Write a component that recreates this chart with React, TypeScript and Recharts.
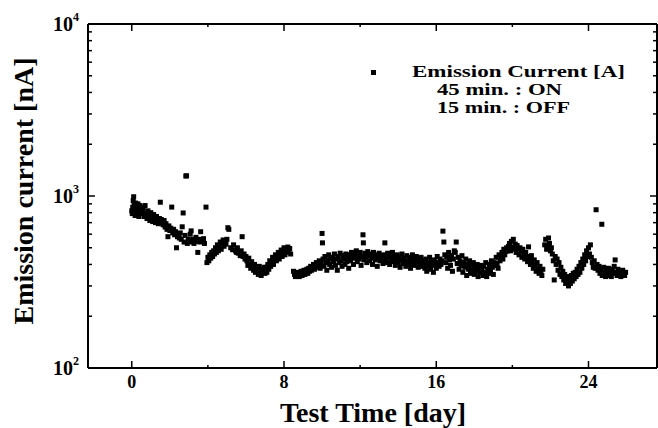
import React from 'react';
import { ScatterChart, Scatter, XAxis, YAxis } from 'recharts';

// ---- data: test time [day] and emission current [nA] ----
const days: number[] = [
  0.00, 0.025, 0.05, 0.075, 0.10, 0.125, 0.15, 0.175, 0.20, 0.225, 0.25, 0.275, 0.30, 0.325, 0.35, 0.375, 0.40, 0.425, 0.45, 0.475, 0.50,
  0.55, 0.60, 0.65, 0.70, 0.75, 0.80, 0.85, 0.90, 0.95, 1.00, 1.05, 1.10, 1.15, 1.20, 1.25, 1.30, 1.35, 1.40, 1.45, 1.50,
  1.55, 1.60, 1.65, 1.70, 1.75, 1.80, 1.85, 1.90, 1.95, 2.00, 2.05, 2.10, 2.15, 2.20, 2.25, 2.30, 2.35, 2.40, 2.45, 2.50,
  2.55, 2.60, 2.65, 2.70, 2.75, 2.80, 2.84, 2.88, 2.92, 2.97, 3.02, 3.07, 3.12, 3.17, 3.22, 3.27, 3.32, 3.37, 3.42, 3.47, 3.52, 3.57, 3.62, 3.67, 3.72, 3.77, 3.82,
  3.90, 3.95, 4.00, 4.05, 4.10, 4.15, 4.20, 4.25, 4.30, 4.35, 4.40, 4.45, 4.50, 4.55, 4.60, 4.65, 4.70, 4.75, 4.80, 4.85, 4.90, 4.95, 5.00, 5.05, 5.10,
  5.20, 5.30, 5.35, 5.45, 5.50, 5.55, 5.60, 5.70, 5.75, 5.80, 5.85, 5.90, 5.95, 6.00,
  6.05, 6.10, 6.15, 6.20, 6.25, 6.30, 6.35, 6.40, 6.45, 6.50, 6.55, 6.60, 6.65, 6.70, 6.75, 6.80, 6.85, 6.90, 6.95, 7.00,
  7.05, 7.10, 7.15, 7.20, 7.25, 7.30, 7.35, 7.40, 7.45, 7.50, 7.55, 7.60, 7.65, 7.70, 7.75, 7.80, 7.85, 7.90, 7.95, 8.00, 8.05, 8.10, 8.15, 8.20, 8.25, 8.30, 8.35,
  8.50, 8.55, 8.60, 8.65, 8.70, 8.75, 8.80, 8.85, 8.90, 8.95, 9.00, 9.05, 9.10, 9.15, 9.20, 9.25, 9.30, 9.35, 9.40, 9.45, 9.50, 9.55, 9.60, 9.65, 9.70, 9.75, 9.80,
  9.85, 9.90, 9.95, 10.00, 10.02, 10.05, 10.10, 10.15, 10.20, 10.25, 10.30, 10.35, 10.40, 10.45, 10.50, 10.55, 10.60, 10.65, 10.70, 10.75, 10.80, 10.85, 10.90, 10.95, 11.00, 11.05, 11.10, 11.15, 11.20, 11.25, 11.30, 11.35, 11.40,
  11.45, 11.50, 11.55, 11.60, 11.65, 11.70, 11.75, 11.80, 11.85, 11.90, 11.95, 12.00, 12.05, 12.10, 12.15, 12.17, 12.20, 12.25, 12.30, 12.35, 12.40, 12.45, 12.50, 12.55, 12.60, 12.65, 12.70, 12.75, 12.80, 12.85, 12.90, 12.95, 13.00, 13.05, 13.10, 13.15, 13.20,
  13.25, 13.30, 13.35, 13.40, 13.45, 13.50, 13.55, 13.60, 13.65, 13.70, 13.75, 13.80, 13.85, 13.90, 13.95, 14.00, 14.05, 14.10, 14.15, 14.20, 14.25,
  14.30, 14.35, 14.40, 14.45, 14.50, 14.55, 14.60, 14.65, 14.70, 14.75, 14.80, 14.85, 14.90, 14.95, 15.00, 15.05, 15.10, 15.15, 15.20, 15.25, 15.30,
  15.35, 15.40, 15.45, 15.50, 15.55, 15.60, 15.65, 15.70, 15.75, 15.80, 15.85, 15.90, 15.95, 16.00, 16.05, 16.10, 16.15, 16.20, 16.25, 16.30,
  16.35, 16.40, 16.45, 16.50, 16.55, 16.60, 16.65, 16.70, 16.75, 16.80, 16.85, 16.90, 16.95, 17.00, 17.05, 17.10, 17.15, 17.20, 17.25, 17.30, 17.35,
  17.40, 17.45, 17.50, 17.55, 17.60, 17.65, 17.70, 17.75, 17.80, 17.85, 17.90, 17.95, 18.00, 18.05, 18.10, 18.15, 18.20, 18.25, 18.30, 18.35, 18.40,
  18.45, 18.50, 18.55, 18.60, 18.65, 18.70, 18.75, 18.80, 18.85, 18.90, 18.95, 19.00, 19.05, 19.10, 19.15, 19.20, 19.25, 19.30, 19.35, 19.40, 19.45, 19.50, 19.55, 19.60, 19.65, 19.70, 19.75, 19.80,
  19.85, 19.90, 19.95, 20.00, 20.05, 20.10, 20.15, 20.20, 20.25, 20.30, 20.35, 20.40, 20.45, 20.50, 20.55, 20.60, 20.65, 20.70,
  20.75, 20.80, 20.85, 20.90, 20.95, 21.00, 21.05, 21.10, 21.15, 21.20, 21.25, 21.30, 21.35, 21.40, 21.45, 21.50, 21.55, 21.60,
  21.70, 21.75, 21.80, 21.85, 21.90, 21.95, 22.00, 22.05,
  22.10, 22.15, 22.20, 22.25, 22.30, 22.35, 22.40, 22.45, 22.50, 22.55, 22.60, 22.65, 22.70, 22.75, 22.80, 22.85, 22.90, 22.95, 23.00, 23.05, 23.10, 23.15, 23.20, 23.25, 23.30,
  23.35, 23.40, 23.45, 23.50, 23.55, 23.60, 23.65, 23.70, 23.75, 23.80, 23.85, 23.90, 23.95, 24.00, 24.05, 24.10, 24.15, 24.20, 24.25, 24.30,
  24.35, 24.40, 24.45, 24.50, 24.55, 24.60, 24.65, 24.70, 24.72, 24.80, 24.85, 24.90, 24.95, 25.00, 25.05, 25.10,
  25.15, 25.20, 25.25, 25.30, 25.35, 25.40, 25.45, 25.50, 25.55, 25.60, 25.65, 25.70, 25.75, 25.80, 25.85, 25.90, 25.95,
];
const currents: number[] = [
  820, 790, 860, 940, 990, 880, 800, 770, 910, 850, 830, 780, 870, 900, 810, 760, 840, 880, 790, 820, 860,
  800, 840, 760, 880, 790, 740, 820, 770, 720, 800, 750, 710, 780, 730, 700, 760, 720, 690, 740, 920,
  730, 700, 680, 720, 660, 690, 640, 580, 670, 630, 650, 862, 610, 640, 595, 620, 500, 580, 600, 570,
  610, 560, 662, 797, 540, 590, 1307, 1310, 530, 560, 545, 600, 627, 540, 560, 530, 550, 575, 545, 470, 560, 540, 620, 555, 545, 565, 530,
  862, 410, 440, 420, 455, 435, 470, 445, 480, 460, 500, 470, 520, 480, 505, 540, 490, 530, 555, 510, 545, 525, 560, 654, 640,
  500, 487, 520, 480, 470, 500, 465, 450, 480, 580, 445, 460, 430, 445,
  420, 395, 435, 400, 380, 415, 390, 370, 400, 360, 385, 375, 350, 390, 365, 345, 375, 360, 385, 355,
  385, 360, 400, 375, 420, 390, 410, 440, 400, 430, 455, 420, 445, 470, 430, 460, 485, 445, 475, 500, 455, 490, 470, 505, 480, 495, 460,
  365, 350, 340, 355, 345, 360, 340, 350, 365, 345, 355, 370, 350, 360, 375, 355, 380, 365, 390, 370, 385, 400, 375, 395, 410, 385, 400,
  420, 380, 405, 606, 534, 430, 390, 445, 410, 370, 425, 455, 400, 430, 385, 440, 415, 460, 395, 430, 370, 445, 410, 465, 420, 390, 450, 430, 400, 460, 415, 440, 380,
  455, 420, 470, 435, 400, 460, 440, 480, 415, 450, 430, 470, 395, 445, 595, 534, 425, 465, 440, 410, 475, 450, 420, 460, 435, 400, 470, 445, 425, 455, 390, 440, 465, 420, 450, 430, 405,
  455, 534, 430, 410, 465, 440, 400, 450, 425, 470, 415, 445, 395, 430, 455, 410, 440, 385, 425, 460, 405,
  435, 415, 390, 450, 420, 400, 440, 380, 425, 455, 405, 430, 395, 445, 415, 385, 435, 410, 440, 390, 420,
  400, 380, 430, 365, 410, 390, 440, 375, 415, 395, 360, 425, 405, 380, 445, 410, 390, 430, 400, 420,
  625, 540, 455, 410, 440, 380, 470, 425, 395, 450, 365, 430, 480, 470, 540, 405, 440, 375, 420, 395, 450,
  360, 410, 385, 430, 345, 400, 375, 420, 355, 395, 370, 410, 350, 385, 365, 400, 340, 380, 360, 395, 370,
  345, 390, 360, 410, 340, 375, 355, 400, 370, 420, 385, 350, 410, 395, 440, 405, 380, 455, 420, 440, 470, 430, 490, 455, 475, 500, 480, 510,
  530, 480, 545, 505, 560, 490, 525, 470, 515, 495, 455, 500, 480, 440, 490, 460, 430, 470,
  445, 415, 506, 435, 400, 450, 415, 380, 425, 395, 365, 410, 375, 355, 390, 365, 345, 375,
  520, 560, 490, 506, 570, 530, 480, 500,
  460, 420, 325, 445, 400, 430, 370, 410, 350, 385, 340, 365, 325, 350, 310, 340, 320, 300, 330, 310, 345, 320, 355, 330, 360,
  340, 375, 350, 390, 360, 410, 380, 430, 400, 455, 420, 480, 445, 500, 460, 520, 440, 410, 385, 420,
  380, 832, 400, 370, 390, 355, 375, 685, 345, 385, 360, 340, 370, 350, 380, 345,
  365, 340, 375, 355, 390, 425, 360, 345, 375, 350, 365, 340, 360, 370, 350, 345, 360,
];

const xTicks = [0, 4, 8, 12, 16, 20, 24];
const xMajorLabels: Record<number, string> = { 0: '0', 8: '8', 16: '16', 24: '24' };
const yTicks = [100, 200, 300, 400, 500, 600, 700, 800, 900, 1000, 2000, 3000, 4000, 5000, 6000, 7000, 8000, 9000, 10000];
const yMajorExp: Record<number, string> = { 100: '2', 1000: '3', 10000: '4' };
const xTitle = 'Test Time [day]';
const yTitle = 'Emission current [nA]';
const legendLines = ['Emission Current [A]', '45 min. : ON', '15 min. : OFF'];

const n = Math.min(days.length, currents.length);
const points = days.slice(0, n).map((d, i) => ({ day: d, current: currents[i] }));

const FONT = "'Liberation Serif', 'Times New Roman', serif";
const W = 658;
const H = 428;
const X_DOMAIN: [number, number] = [-2.3, 27.6];
const Y_DOMAIN: [number, number] = [100, 10000];

const LeftTick = (p: any) => {
  const { x, y, payload } = p;
  const exp = yMajorExp[payload.value];
  const major = exp !== undefined;
  return (
    <g>
      <line x1={x} x2={x + (major ? 7 : 4)} y1={y} y2={y} stroke="#000" strokeWidth={1.5} />
      {major && (
        <text x={x - 9} y={y + 7} textAnchor="end" fontFamily={FONT} fontWeight="bold" fontSize={20} fill="#000">
          10
          <tspan fontSize={12} dy={-10}>{exp}</tspan>
        </text>
      )}
    </g>
  );
};

const RightTick = (p: any) => {
  const { x, y, payload } = p;
  const major = yMajorExp[payload.value] !== undefined;
  return <line x1={x} x2={x - (major ? 7 : 4)} y1={y} y2={y} stroke="#000" strokeWidth={1.5} />;
};

const BottomTick = (p: any) => {
  const { x, y, payload } = p;
  const label = xMajorLabels[payload.value];
  const major = label !== undefined;
  return (
    <g>
      <line x1={x} x2={x} y1={y} y2={y - (major ? 7 : 3)} stroke="#000" strokeWidth={1.5} />
      {major && (
        <text x={x} y={y + 20} textAnchor="middle" fontFamily={FONT} fontWeight="bold" fontSize={18} fill="#000">
          {label}
        </text>
      )}
    </g>
  );
};

const TopTick = (p: any) => {
  const { x, y, payload } = p;
  const major = xMajorLabels[payload.value] !== undefined;
  return <line x1={x} x2={x} y1={y} y2={y + (major ? 7 : 3)} stroke="#000" strokeWidth={1.5} />;
};

const Square = (p: any) => {
  const { cx, cy } = p;
  if (cx == null || cy == null) return null;
  return <rect x={cx - 2.5} y={cy - 2.5} width={5} height={5} fill="#000" />;
};

export default function App() {
  const axisLine = { stroke: '#000', strokeWidth: 2 };
  return (
    <div style={{ position: 'absolute', left: 0, top: 0, width: W, height: H, background: '#fff' }}>
      <ScatterChart width={W} height={H} margin={{ top: 23, right: 0, bottom: 59, left: 87 }}>
        <XAxis
          xAxisId="b"
          dataKey="day"
          type="number"
          domain={X_DOMAIN}
          allowDataOverflow
          ticks={xTicks}
          interval={0}
          height={1}
          tickSize={0}
          tickMargin={0}
          axisLine={axisLine}
          tickLine={false}
          tick={<BottomTick />}
        />
        <XAxis
          xAxisId="t"
          orientation="top"
          dataKey="day"
          type="number"
          domain={X_DOMAIN}
          allowDataOverflow
          ticks={xTicks}
          interval={0}
          height={1}
          tickSize={0}
          tickMargin={0}
          axisLine={axisLine}
          tickLine={false}
          tick={<TopTick />}
        />
        <YAxis
          yAxisId="l"
          dataKey="current"
          type="number"
          scale="log"
          domain={Y_DOMAIN}
          allowDataOverflow
          ticks={yTicks}
          interval={0}
          width={1}
          tickSize={0}
          tickMargin={0}
          axisLine={axisLine}
          tickLine={false}
          tick={<LeftTick />}
        />
        <YAxis
          yAxisId="r"
          orientation="right"
          dataKey="current"
          type="number"
          scale="log"
          domain={Y_DOMAIN}
          allowDataOverflow
          ticks={yTicks}
          interval={0}
          width={1}
          tickSize={0}
          tickMargin={0}
          axisLine={axisLine}
          tickLine={false}
          tick={<RightTick />}
        />
        <Scatter
          xAxisId="b"
          yAxisId="l"
          data={points}
          dataKey="current"
          fill="#000"
          shape={<Square />}
          isAnimationActive={false}
        />
        <Scatter
          xAxisId="t"
          yAxisId="r"
          data={[]}
          dataKey="current"
          fill="#000"
          shape={<Square />}
          isAnimationActive={false}
        />
      </ScatterChart>
      <svg
        width={W}
        height={H}
        style={{ position: 'absolute', left: 0, top: 0, pointerEvents: 'none' }}
        fontFamily={FONT}
        fontWeight="bold"
        fill="#000"
      >
        <text transform="translate(33,191) rotate(-90)" textAnchor="middle" fontSize={28}>
          {yTitle}
        </text>
        <text x={373} y={422} textAnchor="middle" fontSize={28}>
          {xTitle}
        </text>
        <rect x={371} y={70} width={5} height={5} fill="#000" />
        <text x={412} y={77} fontSize={17} textLength={213} lengthAdjust="spacingAndGlyphs">{legendLines[0]}</text>
        <text x={437} y={95} fontSize={17} textLength={125} lengthAdjust="spacingAndGlyphs">{legendLines[1]}</text>
        <text x={437} y={113} fontSize={17} textLength={133} lengthAdjust="spacingAndGlyphs">{legendLines[2]}</text>
      </svg>
    </div>
  );
}
